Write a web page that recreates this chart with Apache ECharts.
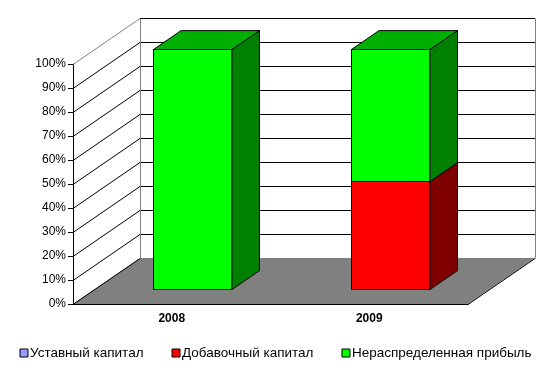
<!DOCTYPE html>
<html><head><meta charset="utf-8">
<script src="https://cdn.jsdelivr.net/npm/echarts@6/dist/echarts.min.js"></script>
<style>html,body{margin:0;padding:0;background:#fff}#c{width:551px;height:369px}</style>
</head><body><div id="c"></div>
<script>
const categories = ['2008', '2009'];
const seriesNames = ['Уставный капитал', 'Добавочный капитал', 'Нераспределенная прибыль'];
const ustav = [0, 0];
const dobav = [0, 45];
const nerasp = [100, 55];
const yTicks = [0, 10, 20, 30, 40, 50, 60, 70, 80, 90, 100];

const DX = 67, DY = 46, F0 = 0.33, F1 = 0.74;
const faceColors = [
  ['#9999FF', '#4D4D80', '#7A7ACC'],
  ['#FF0000', '#800000', '#B00000'],
  ['#00FF00', '#008000', '#00B000']
];
const allVals = [ustav, dobav, nerasp];

function stackData(idx) {
  return categories.map((c, i) => {
    let lo = 0;
    for (let k = 0; k < idx; k++) lo += allVals[k][i];
    return [i, lo, lo + allVals[idx][i]];
  });
}

function barRender(sIdx) {
  return function (params, api) {
    const cat = api.value(0), lo = api.value(1), hi = api.value(2);
    if (hi - lo <= 0) return null;
    const pLo = api.coord([cat, lo]), pHi = api.coord([cat, hi]);
    const w = api.size([1, 0])[0] * 0.4;
    const ox = DX * F0, oy = DY * F0, ddx = DX * (F1 - F0), ddy = DY * (F1 - F0);
    const x0 = Math.round(pLo[0] - w / 2 + ox) - 0.5, x1 = Math.round(x0 + w) - 1;
    const yb = Math.round(pLo[1] - oy) + 0.5, yt = Math.round(pHi[1] - oy) + 0.5;
    const st = { stroke: '#000', lineWidth: 1 };
    const c = faceColors[sIdx];
    return { type: 'group', children: [
      { type: 'polygon', shape: { points: [[x0, yb], [x1, yb], [x1, yt], [x0, yt]] }, style: Object.assign({ fill: c[0] }, st) },
      { type: 'polygon', shape: { points: [[x1, yb], [x1 + ddx, yb - ddy], [x1 + ddx, yt - ddy], [x1, yt]] }, style: Object.assign({ fill: c[1] }, st) },
      { type: 'polygon', shape: { points: [[x0, yt], [x1, yt], [x1 + ddx, yt - ddy], [x0 + ddx, yt - ddy]] }, style: Object.assign({ fill: c[2] }, st) }
    ]};
  };
}

function bgRender(params, api) {
  const cs = params.coordSys;
  const x = cs.x, w = cs.width;
  const y0 = api.coord([0, 0])[1];
  const children = [];
  children.push({ type: 'polygon', shape: { points: [[x, y0], [x + DX, y0 - DY], [x + w + DX, y0 - DY], [x + w, y0]] }, style: { fill: '#808080' } });
  yTicks.forEach(v => {
    const yy = Math.round(api.coord([0, v])[1]) + 0.5;
    children.push({ type: 'polyline', shape: { points: [[x, yy], [x + DX, yy - DY]] }, style: { stroke: v === 100 ? '#808080' : '#000', lineWidth: 1, fill: null } });
    if (v > 0) children.push({ type: 'polyline', shape: { points: [[x + DX, yy - DY], [x + w + DX, yy - DY]] }, style: { stroke: '#000', lineWidth: 1, fill: null } });
  });
  const yTop = Math.round(api.coord([0, 100])[1]) + 0.5;
  const yBot = Math.round(y0) + 0.5;
  children.push({ type: 'line', shape: { x1: x + DX + 0.5, y1: yTop - DY, x2: x + DX + 0.5, y2: yBot - DY }, style: { stroke: '#808080', lineWidth: 1 } });
  children.push({ type: 'line', shape: { x1: x + w + DX + 0.5, y1: yTop - DY, x2: x + w + DX + 0.5, y2: yBot - DY }, style: { stroke: '#808080', lineWidth: 1 } });
  children.push({ type: 'line', shape: { x1: x + w, y1: yBot, x2: x + w + DX, y2: yBot - DY }, style: { stroke: '#000', lineWidth: 1 } });
  return { type: 'group', children: children };
}

const chart = echarts.init(document.getElementById('c'), null, { renderer: 'canvas' });
const series = [{
  type: 'custom', name: 'bg', renderItem: bgRender, data: [[0, 0]], encode: { x: 0, y: 1 }, z: 1, silent: true
}];
seriesNames.forEach((n, i) => {
  series.push({
    type: 'custom', name: n, renderItem: barRender(i), data: stackData(i),
    encode: { x: 0, y: [1, 2] }, z: 2 + i, itemStyle: { color: faceColors[i][0] }
  });
});
chart.setOption({
  animation: false,
  grid: { left: 73, right: 83, top: 64, bottom: 65 },
  legend: {
    data: seriesNames, bottom: 4, left: 'center', icon: 'rect', itemWidth: 8, itemHeight: 8, itemGap: 28,
    itemStyle: { borderColor: '#000', borderWidth: 1 },
    textStyle: { fontFamily: 'Liberation Sans, Arial', fontSize: 13.5, color: '#000', padding: [0, 0, 0, -3] }
  },
  xAxis: {
    type: 'category', data: categories,
    axisLine: { lineStyle: { color: '#000' } },
    axisTick: { length: 4, lineStyle: { color: '#000' } },
    axisLabel: { color: '#000', fontWeight: 'bold', fontSize: 12, fontFamily: 'Liberation Sans, Arial', margin: 9 }
  },
  yAxis: {
    type: 'value', min: 0, max: 100, interval: 10,
    axisLine: { show: true, lineStyle: { color: '#000' } },
    axisTick: { show: true, length: 5, lineStyle: { color: '#000' } },
    splitLine: { show: false },
    axisLabel: { formatter: '{value}%', color: '#000', fontSize: 12, fontFamily: 'Liberation Sans, Arial', margin: 7 }
  },
  series: series
});
</script></body></html>
